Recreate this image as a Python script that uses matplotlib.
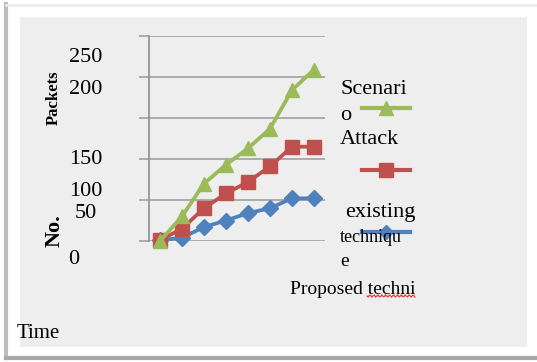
import matplotlib.pyplot as plt
from matplotlib.patches import Rectangle
from matplotlib.lines import Line2D
import numpy as np

plt.rcParams['font.family'] = ['Liberation Serif', 'DejaVu Serif']

# data
time_steps = list(range(8))
existing = [1, 4, 17, 25, 34, 40, 52, 52]
attack = [1, 15, 40, 58, 72, 91, 115, 115]
proposed = [0, 30, 70, 93, 113, 137, 184, 209]
y_ticks = [0, 50, 100, 150, 200, 250]
y_labels = ['0', '50', '100', '150', '200', '250']

W, H = 537, 362
fig = plt.figure(figsize=(W / 100, H / 100), dpi=100)
fig.patch.set_facecolor('white')


def fx(x):
    return x / W


def fy(y):
    return 1 - y / H


# frame and grey chart area
fig.add_artist(Line2D([fx(6), fx(6)], [fy(4), fy(358)], color='#bdbdbd', lw=3))
fig.add_artist(Line2D([fx(6), fx(537)], [fy(5), fy(5)], color='#ececec', lw=2))
fig.add_artist(Line2D([fx(6), fx(537)], [fy(358), fy(358)], color='#a8a8a8', lw=3))
fig.add_artist(Rectangle((fx(20), fy(347)), fx(527) - fx(20), fy(17) - fy(347),
                         transform=fig.transFigure, facecolor='#eeeeee',
                         edgecolor='none', zorder=0))

ax = fig.add_axes([fx(149), fy(241), fx(325) - fx(149), fy(36) - fy(241)])
ax.patch.set_alpha(0)
ax.set_xlim(-0.5, 7.5)
ax.set_ylim(0, 250)
ax.set_yticks(y_ticks)
ax.set_yticklabels([])
ax.set_xticks([])
ax.tick_params(axis='y', length=7, width=1.2, color='#a0a0a0')
ax.grid(axis='y', color='#a0a0a0', lw=1.2)
for s in ['top', 'right', 'bottom']:
    ax.spines[s].set_visible(False)
ax.spines['left'].set_color('#909090')
ax.spines['left'].set_linewidth(1.2)

ax.plot(time_steps, existing, color='#4F81BD', lw=2.7, marker='D', ms=8, zorder=3, clip_on=False)
ax.plot(time_steps, attack, color='#C0504D', lw=2.7, marker='s', ms=10.5, zorder=4, clip_on=False)
ax.plot(time_steps, proposed, color='#9BBB59', lw=2.7, marker='^', ms=10.5, zorder=5, clip_on=False)

# misplaced tick labels, as in the original
label_pos = {'250': (69, 57), '200': (69, 90), '150': (69, 160),
             '100': (69, 191), '50': (75, 213), '0': (68, 260)}
for lab in y_labels:
    x, y = label_pos[lab]
    fig.text(fx(x), fy(y), lab, fontsize=16, ha='left', va='center')

fig.text(fx(54), fy(98), 'Packets', fontsize=12, fontweight='bold', rotation=90,
         ha='center', va='center')
fig.text(fx(55), fy(231), 'No.', fontsize=16, fontweight='bold', rotation=90,
         ha='center', va='center')
fig.text(fx(17), fy(334), 'Time', fontsize=15, ha='left', va='center')

# legend drawn by hand
fig.text(fx(340), fy(90), 'Scenari', fontsize=16, ha='left', va='center')
fig.text(fx(340), fy(115), 'o', fontsize=16, ha='left', va='center')
fig.text(fx(340), fy(140), 'Attack', fontsize=16, ha='left', va='center')
fig.text(fx(345), fy(213), 'existing', fontsize=16, ha='left', va='center')
fig.text(fx(340), fy(238), 'techniqu', fontsize=13, ha='left', va='center')
fig.text(fx(340), fy(262), 'e', fontsize=14, ha='left', va='center')
fig.text(fx(290), fy(289), 'Proposed techni', fontsize=14, ha='left', va='center')

for yy, col, mk, ms in [(108, '#9BBB59', '^', 10), (170, '#C0504D', 's', 10),
                        (232, '#4F81BD', 'D', 7)]:
    fig.add_artist(Line2D([fx(362), fx(386), fx(410)], [fy(yy)] * 3, color=col, lw=3,
                          marker=mk, ms=ms, markevery=[1]))

# spell-check squiggle
sx = np.linspace(367, 415, 40)
sy = 296 + 1.2 * np.sin((sx - 367) * 1.6)
fig.add_artist(Line2D(fx(sx), fy(sy), color='#e03030', lw=0.8))

fig.savefig('out.png', dpi=100)
